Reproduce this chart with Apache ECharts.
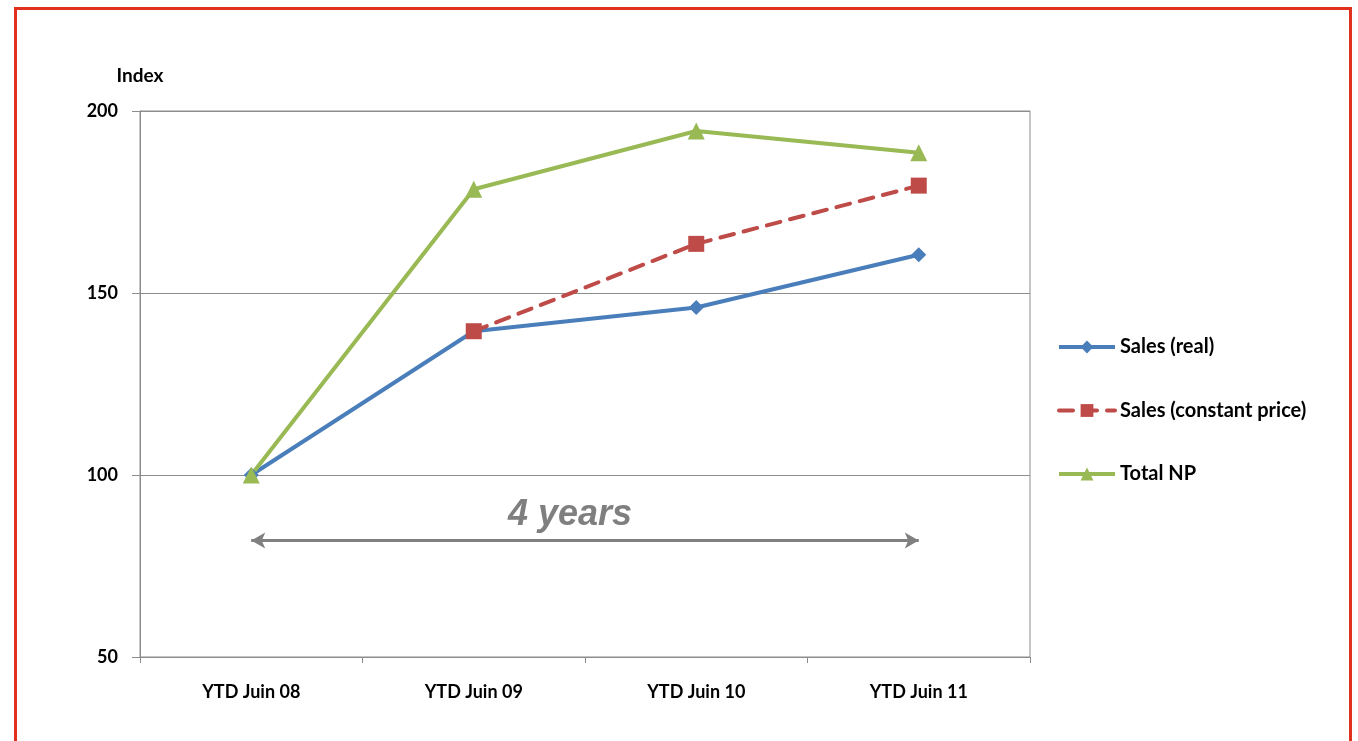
<!DOCTYPE html>
<html>
<head>
<meta charset="utf-8">
<script src="https://cdn.jsdelivr.net/npm/echarts@6/dist/echarts.min.js"></script>
<style>
  html, body { margin: 0; padding: 0; background: #fff; }
  #frame {
    position: absolute; left: 14px; top: 7px; width: 1338px; height: 760px;
    border: 3px solid #e0301e; box-sizing: border-box;
  }
  #chart { position: absolute; left: 0; top: 0; width: 1358px; height: 741px; }
</style>
</head>
<body>
<div id="chart"></div>
<div id="frame"></div>
<script>
// Periods on the horizontal axis
const categories = ['YTD Juin 08', 'YTD Juin 09', 'YTD Juin 10', 'YTD Juin 11'];
// Index values (base 100 = YTD Juin 08)
const salesReal = [100, 139.5, 146, 160.5];
const salesConstant = [null, 139.5, 163.5, 179.5];
const totalNP = [100, 178.5, 194.5, 188.5];
// Y axis bounds
const yMin = 50, yMax = 200, yStep = 50;
// Span of the "4 years" arrow
const spanY = 82;
const spanLabel = '4 years';

const chart = echarts.init(document.getElementById('chart'));
const font = 'Lato, "Open Sans", sans-serif';

chart.setOption({
  animation: false,
  backgroundColor: '#fff',
  grid: {
    left: 140, right: 328, top: 111, bottom: 84,
    show: true, borderColor: '#8c8c8c', borderWidth: 1
  },
  legend: {
    orient: 'vertical',
    left: 1057, top: 337,
    padding: 0,
    itemGap: 43.5,
    itemWidth: 56, itemHeight: 16,
    lineStyle: { width: 4 },
    textStyle: { fontFamily: font, fontWeight: 'bold', fontSize: 20, color: '#000', padding: [0, 0, 0, 0] },
    data: ['Sales (real)', 'Sales (constant price)', 'Total NP']
  },
  xAxis: {
    type: 'category',
    data: categories,
    boundaryGap: true,
    axisLine: { lineStyle: { color: '#8c8c8c', width: 1 } },
    axisTick: { show: true, length: 6, lineStyle: { color: '#8c8c8c' } },
    axisLabel: { margin: 26, fontFamily: font, fontWeight: 'bold', fontSize: 18, color: '#000' }
  },
  yAxis: {
    type: 'value',
    min: yMin, max: yMax, interval: yStep,
    name: 'Index',
    nameLocation: 'end',
    nameGap: 26,
    nameTextStyle: { fontFamily: font, fontWeight: 'bold', fontSize: 19, color: '#000', align: 'center' },
    axisLine: { show: true, lineStyle: { color: '#8c8c8c', width: 1 } },
    axisTick: { show: true, length: 8, lineStyle: { color: '#8c8c8c' } },
    axisLabel: { margin: 22, fontFamily: font, fontWeight: 'bold', fontSize: 18, color: '#000' },
    splitLine: { lineStyle: { color: '#8c8c8c', width: 1 } }
  },
  series: [
    {
      name: 'Sales (real)', type: 'line', data: salesReal,
      symbol: 'diamond', symbolSize: 15,
      itemStyle: { color: '#4a7ebb' },
      lineStyle: { color: '#4a7ebb', width: 4 },
      markLine: {
        silent: true,
        symbol: ['arrow', 'arrow'], symbolSize: [12, 14],
        label: { show: false },
        lineStyle: { color: '#808080', width: 3, type: 'solid' },
        data: [[{ coord: [0, spanY] }, { coord: [3, spanY] }]]
      }
    },
    {
      name: 'Sales (constant price)', type: 'line', data: salesConstant,
      symbol: 'rect', symbolSize: 16,
      itemStyle: { color: '#be4b48' },
      lineStyle: { color: '#be4b48', width: 4, type: [14, 10], cap: 'round' }
    },
    {
      name: 'Total NP', type: 'line', data: totalNP,
      symbol: 'triangle', symbolSize: 17,
      itemStyle: { color: '#98b954' },
      lineStyle: { color: '#98b954', width: 4 }
    }
  ],
  graphic: [
    {
      type: 'text', left: 508, top: 497,
      style: {
        text: spanLabel, fill: '#7f7f7f',
        font: 'italic bold 36px "Liberation Sans", Arial, sans-serif'
      }
    }
  ]
});
</script>
</body>
</html>
